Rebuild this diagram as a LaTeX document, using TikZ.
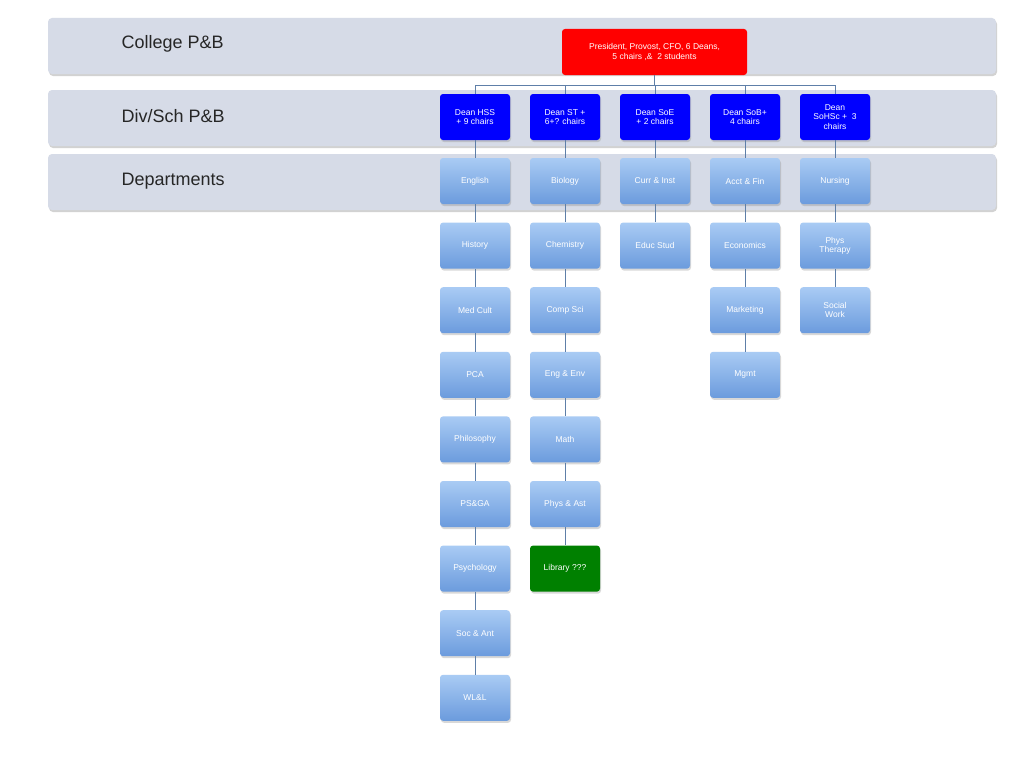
\documentclass[tikz,border=0pt]{standalone}
\usepackage{fontspec}
\setmainfont{Liberation Sans}
\usetikzlibrary{shadows}
\definecolor{band}{HTML}{D6DBE7}
\definecolor{conn}{HTML}{5E7FA8}
\definecolor{dtop}{HTML}{A9CBF4}
\definecolor{dbot}{HTML}{6B9BDD}
\tikzset{
 bandbox/.style={fill=band,rounded corners=4pt,draw=none,drop shadow={opacity=0.35,shadow xshift=1pt,shadow yshift=-2pt}},
 bandlabel/.style={anchor=west,font=\fontsize{18}{20}\selectfont,text=black!85},
 dean/.style={fill=blue,rounded corners=3pt,minimum width=70pt,minimum height=46pt,text=white,align=center,font=\fontsize{8.5}{9.5}\selectfont,inner sep=1pt,drop shadow={opacity=0.3,shadow xshift=1pt,shadow yshift=-2pt}},
 dept/.style={top color=dtop,bottom color=dbot,rounded corners=3pt,minimum width=70pt,minimum height=46pt,text=white,align=center,font=\fontsize{8.5}{9.5}\selectfont,inner sep=1pt,drop shadow={opacity=0.3,shadow xshift=1pt,shadow yshift=-2pt}},
 lib/.style={dept,top color=green!50!black,bottom color=green!50!black},
 pres/.style={fill=red,rounded corners=3pt,minimum width=185pt,minimum height=46pt,text=white,align=center,font=\fontsize{8.5}{9.5}\selectfont},
 link/.style={draw=conn,line width=0.7pt}
}
\begin{document}
\begin{tikzpicture}[x=1pt,y=-1pt]
\useasboundingbox (0,0) rectangle (1024,768);
\fill[white] (0,0) rectangle (1024,768);
\path[bandbox] (48,18) rectangle (996,74);
\path[bandbox] (48,90) rectangle (996,146);
\path[bandbox] (48,154) rectangle (996,210);
\node[bandlabel] (l1) at (118,44) {College P\&B};
\node[bandlabel] (l2) at (118,116) {Div/Sch P\&B};
\node[bandlabel] (l3) at (118,181) {Departments};
\node[pres] (p) at (654.5,52) {President, Provost, CFO, 6 Deans,\\5 chairs ,\&\ \ 2 students};
\node[dean] (d1) at (475,117) {Dean HSS\\+ 9 chairs};
\node[dean] (d2) at (565,117) {Dean ST +\\6+? chairs};
\node[dean] (d3) at (655,117) {Dean SoE\\+ 2 chairs};
\node[dean] (d4) at (745,117) {Dean SoB+\\4 chairs};
\node[dean] (d5) at (835,117) {Dean\\SoHSc +\ \ 3\\chairs};
\foreach \i in {1,...,5}{\draw[link] (p.south) -- ++(0,10) -| (d\i.north);}
% column 1
\foreach [count=\j] \t in {English,History,Med Cult,PCA,Philosophy,PS\&GA,Psychology,Soc \& Ant,WL\&L}{
 \node[dept] (a\j) at (475,181+64.6*\j-64.6) {\t};}
\draw[link] (d1) -- (a1);
\foreach \j [evaluate=\j as \k using int(\j+1)] in {1,...,8}{\draw[link] (a\j) -- (a\k);}
% column 2
\foreach [count=\j] \t in {Biology,Chemistry,Comp Sci,Eng \& Env,Math,Phys \& Ast}{
 \node[dept] (b\j) at (565,181+64.6*\j-64.6) {\t};}
\node[lib] (b7) at (565,568.6) {Library ???};
\draw[link] (d2) -- (b1);
\foreach \j [evaluate=\j as \k using int(\j+1)] in {1,...,6}{\draw[link] (b\j) -- (b\k);}
% column 3
\node[dept] (c1) at (655,181) {Curr \& Inst};
\node[dept] (c2) at (655,245.6) {Educ Stud};
\draw[link] (d3) -- (c1) -- (c2);
% column 4
\foreach [count=\j] \t in {Acct \& Fin,Economics,Marketing,Mgmt}{
 \node[dept] (e\j) at (745,181+64.6*\j-64.6) {\t};}
\draw[link] (d4) -- (e1) -- (e2) -- (e3) -- (e4);
% column 5
\node[dept] (f1) at (835,181) {Nursing};
\node[dept] (f2) at (835,245.6) {Phys\\Therapy};
\node[dept] (f3) at (835,310.2) {Social\\Work};
\draw[link] (d5) -- (f1) -- (f2) -- (f3);
\end{tikzpicture}
\end{document}
